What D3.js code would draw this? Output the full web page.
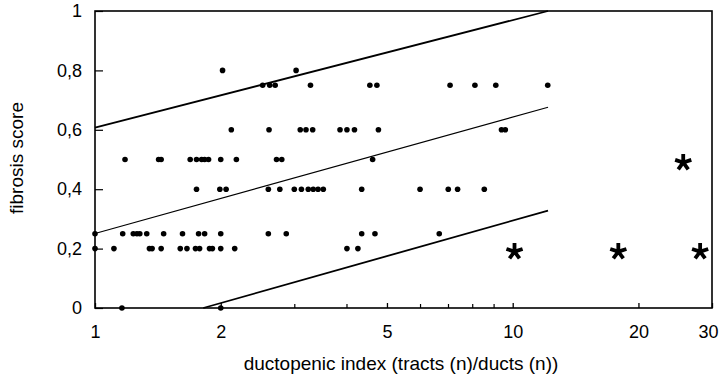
<!DOCTYPE html>
<html><head><meta charset="utf-8">
<script src="https://cdn.jsdelivr.net/npm/d3@7"></script>
<style>
html,body{margin:0;padding:0;background:#fff;}
svg{display:block;font-family:"Liberation Sans",Arial,Helvetica,sans-serif;}
</style></head>
<body>
<svg id="chart" width="721" height="378"></svg>
<script>
// ---- data ----
const pointX = [
  2.02, 3.03,
  2.52, 2.62, 2.70, 3.28, 4.55, 4.73, 7.08, 8.12, 9.11, 12.13,
  2.12, 2.61, 3.10, 3.20, 3.32, 3.86, 4.01, 4.18, 4.77, 9.40, 9.60,
  1.18, 1.42, 1.44, 1.69, 1.75, 1.80, 1.83, 1.87, 2.00, 2.18, 2.72, 2.80, 4.62,
  1.75, 1.99, 2.06, 2.60, 2.77, 3.00, 3.12, 3.24, 3.33, 3.42, 3.52, 4.35, 6.00, 7.01, 7.38, 8.55,
  1.00, 1.165, 1.235, 1.26, 1.28, 1.33, 1.46, 1.62, 1.77, 1.83, 2.00, 2.60, 2.87, 4.35, 4.68, 6.67,
  1.00, 1.11, 1.35, 1.37, 1.44, 1.60, 1.66, 1.74, 1.78, 1.88, 1.91, 2.00, 2.16, 4.01, 4.26,
  1.16, 2.00
];
const pointY = [
  0.8, 0.8,
  0.75, 0.75, 0.75, 0.75, 0.75, 0.75, 0.75, 0.75, 0.75, 0.75,
  0.6, 0.6, 0.6, 0.6, 0.6, 0.6, 0.6, 0.6, 0.6, 0.6, 0.6,
  0.5, 0.5, 0.5, 0.5, 0.5, 0.5, 0.5, 0.5, 0.5, 0.5, 0.5, 0.5, 0.5,
  0.4, 0.4, 0.4, 0.4, 0.4, 0.4, 0.4, 0.4, 0.4, 0.4, 0.4, 0.4, 0.4, 0.4, 0.4, 0.4,
  0.25, 0.25, 0.25, 0.25, 0.25, 0.25, 0.25, 0.25, 0.25, 0.25, 0.25, 0.25, 0.25, 0.25, 0.25, 0.25,
  0.2, 0.2, 0.2, 0.2, 0.2, 0.2, 0.2, 0.2, 0.2, 0.2, 0.2, 0.2, 0.2, 0.2, 0.2,
  0, 0
];
// outliers (asterisks)
const starX = [10.1, 17.9, 28.1, 25.6];
const starY = [0.19, 0.19, 0.19, 0.49];
// regression line and limits [x, y]
const upperLine = [[1, 0.607], [12.15, 1.0]];
const fitLine   = [[1, 0.251], [12.15, 0.676]];
const lowerLine = [[1.816, 0], [12.15, 0.328]];
// ticks
const xMajorTicks = [1, 2, 5, 10, 20, 30];
const xMinorTicks = [3, 4, 6, 7, 8, 9];
const yTicks = [0, 0.2, 0.4, 0.6, 0.8, 1];
const yTickLabels = ["0", "0,2", "0,4", "0,6", "0,8", "1"];
const xTitle = "ductopenic index (tracts (n)/ducts (n))";
const yTitle = "fibrosis score";

// ---- drawing ----
const svg = d3.select("#chart");
const L = 95, R = 712, T = 11, B = 308;
const x = d3.scaleLog().domain([1, 30]).range([L, R]);
const y = d3.scaleLinear().domain([0, 1]).range([B, T]);

// frame
svg.append("rect").attr("x", L).attr("y", T).attr("width", R - L).attr("height", B - T)
  .attr("fill", "none").attr("stroke", "#000").attr("stroke-width", 1.6);

// x axis (ticks inward)
const xAxis = d3.axisBottom(x).tickValues(xMajorTicks).tickSize(-5).tickPadding(17)
  .tickFormat(d3.format("d"));
const gx = svg.append("g").attr("transform", `translate(0,${B})`).call(xAxis);
gx.select(".domain").remove();
gx.selectAll(".tick line").attr("stroke", "#000").attr("stroke-width", 1.3);
gx.selectAll(".tick text").attr("font-size", 18).attr("fill", "#000").attr("font-family", null)
  .attr("dx", d => d === 30 ? -4 : 0);
const gxm = svg.append("g").attr("transform", `translate(0,${B})`)
  .call(d3.axisBottom(x).tickValues(xMinorTicks).tickSize(-4).tickFormat(""));
gxm.select(".domain").remove();
gxm.selectAll(".tick line").attr("stroke", "#000").attr("stroke-width", 1.2);

// y axis (ticks inward)
const yAxis = d3.axisLeft(y).tickValues(yTicks).tickSize(-8).tickPadding(13)
  .tickFormat((d, i) => yTickLabels[i]);
const gy = svg.append("g").attr("transform", `translate(${L},0)`).call(yAxis);
gy.select(".domain").remove();
gy.selectAll(".tick line").attr("stroke", "#000").attr("stroke-width", 1.2);
gy.selectAll(".tick text").attr("font-size", 18).attr("fill", "#000").attr("font-family", null);

// lines
const line = d3.line().x(d => x(d[0])).y(d => y(d[1]));
svg.append("path").datum(upperLine).attr("d", line).attr("fill", "none").attr("stroke", "#000").attr("stroke-width", 1.8);
svg.append("path").datum(fitLine).attr("d", line).attr("fill", "none").attr("stroke", "#000").attr("stroke-width", 1.1);
svg.append("path").datum(lowerLine).attr("d", line).attr("fill", "none").attr("stroke", "#000").attr("stroke-width", 1.8);

// points
svg.append("g").selectAll("circle").data(pointX.map((v, i) => [v, pointY[i]]))
  .join("circle").attr("cx", d => x(d[0])).attr("cy", d => y(d[1])).attr("r", 2.8).attr("fill", "#000");

// asterisks
function asteriskPath(cx, cy, r) {
  const p = d3.path();
  for (let k = 0; k < 5; k++) {
    const a = -Math.PI / 2 + k * 2 * Math.PI / 5;
    p.moveTo(cx, cy);
    p.lineTo(cx + r * Math.cos(a), cy + r * Math.sin(a));
  }
  return p.toString();
}
svg.append("g").selectAll("path").data(starX.map((v, i) => [v, starY[i]]))
  .join("path").attr("d", d => asteriskPath(x(d[0]), y(d[1]), 8.5))
  .attr("stroke", "#000").attr("stroke-width", 3.8).attr("fill", "none");

// titles
svg.append("text").attr("x", 401).attr("y", 370).attr("text-anchor", "middle")
  .attr("font-size", 19).attr("fill", "#000").text(xTitle);
svg.append("text").attr("transform", "translate(23,158) rotate(-90)").attr("text-anchor", "middle")
  .attr("font-size", 19).attr("fill", "#000").text(yTitle);
</script>
</body></html>
